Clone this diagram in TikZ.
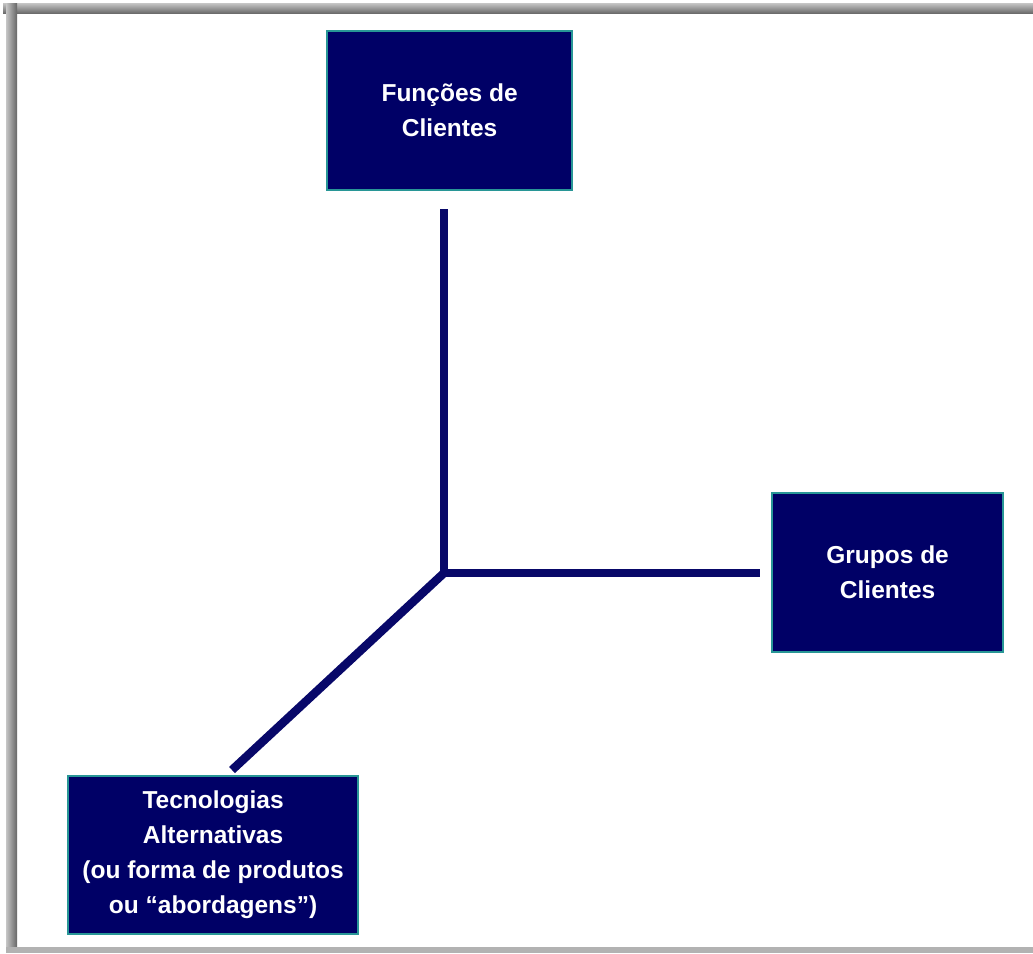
\documentclass[tikz,border=0pt]{standalone}
\usepackage{fontspec}
\setmainfont{Liberation Sans}
\begin{document}
\begin{tikzpicture}[x=1pt,y=-1pt,
  dimbox/.style={draw=boxedge, line width=2.2pt, fill=boxfill, text=white,
    align=center, inner sep=0pt, anchor=north west,
    font=\fontsize{24.5}{35}\selectfont\bfseries},
  axis/.style={draw=axiscol, line width=8.5pt}]
\definecolor{boxfill}{RGB}{0,0,102}
\definecolor{boxedge}{RGB}{40,150,150}
\definecolor{axiscol}{RGB}{8,8,105}
\useasboundingbox (0,0) rectangle (1033,953);
\fill[white] (0,0) rectangle (1033,953);
% window frame
\shade[top color=gray!45, bottom color=gray!85!black] (3,3) rectangle (1033,13);
\shade[left color=gray!45, right color=gray!80!black] (6,3) rectangle (17,950);
\fill[gray!60] (6,947) rectangle (1033,953);
% dimension boxes
\node[dimbox, minimum width=245pt, minimum height=159pt] (func) at (326,30)
  {Funções de\\Clientes};
\node[dimbox, minimum width=231pt, minimum height=159pt] (grup) at (771,492)
  {Grupos de\\Clientes};
\node[dimbox, minimum width=290pt, minimum height=158pt] (tec) at (67,775)
  {Tecnologias\\Alternativas\\(ou forma de produtos\\ou “abordagens”)};
% axes
\coordinate (o) at (444,573);
\coordinate (ftop) at (444,209);
\coordinate (gend) at (760,573);
\coordinate (tend) at (232,770);
\draw[axis] (ftop) -- (o) -- (gend);
\draw[axis] (o) -- (tend);
\end{tikzpicture}
\end{document}
